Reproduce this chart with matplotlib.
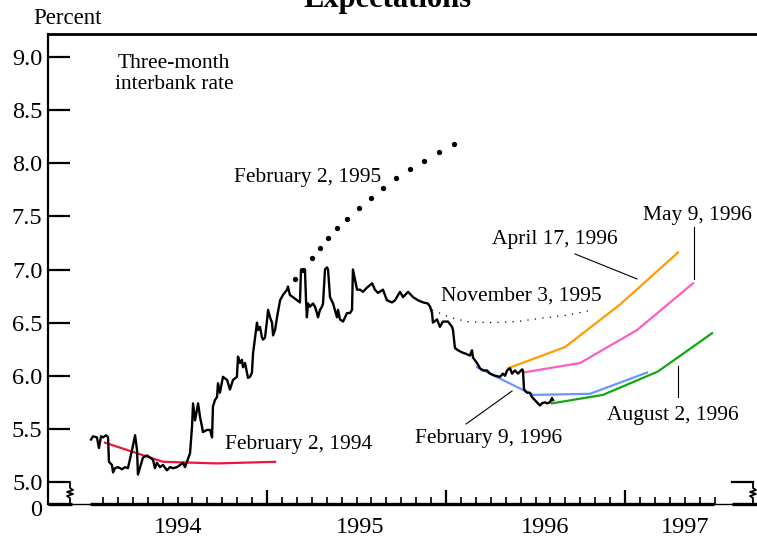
import numpy as np
import matplotlib
matplotlib.use("Agg")
from matplotlib import pyplot as plt

plt.rcParams['font.family'] = ['Liberation Serif', 'DejaVu Serif']

# three-month interbank rate (decimal year, percent)
rate_t = [1994.017, 1994.028, 1994.050, 1994.061, 1994.073, 1994.084, 1994.101, 1994.112,
          1994.117, 1994.134, 1994.140, 1994.151, 1994.168, 1994.190, 1994.207, 1994.223,
          1994.246, 1994.263, 1994.274, 1994.279, 1994.291, 1994.307, 1994.330, 1994.346,
          1994.363, 1994.374, 1994.385, 1994.402, 1994.419, 1994.441, 1994.458, 1994.475,
          1994.497, 1994.514, 1994.531, 1994.542, 1994.553, 1994.570, 1994.581, 1994.587,
          1994.598, 1994.609, 1994.615, 1994.626, 1994.637, 1994.642, 1994.665, 1994.682,
          1994.693, 1994.698, 1994.709, 1994.721, 1994.726, 1994.737, 1994.754, 1994.777,
          1994.793, 1994.810, 1994.832, 1994.838, 1994.849, 1994.860, 1994.866, 1994.877,
          1994.888, 1994.894, 1994.905, 1994.916, 1994.922, 1994.944, 1994.950, 1994.961,
          1994.972, 1994.978, 1994.989, 1995.000, 1995.006, 1995.017, 1995.028, 1995.034,
          1995.045, 1995.056, 1995.073, 1995.089, 1995.112, 1995.117, 1995.128, 1995.145,
          1995.168, 1995.184, 1995.190, 1995.212, 1995.218, 1995.223, 1995.229, 1995.240,
          1995.257, 1995.268, 1995.279, 1995.285, 1995.296, 1995.307, 1995.313, 1995.324,
          1995.335, 1995.341, 1995.352, 1995.369, 1995.391, 1995.397, 1995.408, 1995.425,
          1995.447, 1995.464, 1995.475, 1995.480, 1995.503, 1995.520, 1995.536, 1995.559,
          1995.587, 1995.603, 1995.620, 1995.648, 1995.670, 1995.698, 1995.715, 1995.743,
          1995.760, 1995.788, 1995.816, 1995.844, 1995.872, 1995.899, 1995.911, 1995.922,
          1995.927, 1995.950, 1995.966, 1995.983, 1996.011, 1996.034, 1996.039, 1996.050,
          1996.067, 1996.089, 1996.106, 1996.134, 1996.145, 1996.151, 1996.173, 1996.190,
          1996.207, 1996.229, 1996.246, 1996.274, 1996.302, 1996.318, 1996.330, 1996.341,
          1996.358, 1996.369, 1996.385, 1996.402, 1996.425, 1996.430, 1996.436, 1996.453,
          1996.469, 1996.480, 1996.497, 1996.508, 1996.525, 1996.536, 1996.553, 1996.564,
          1996.581, 1996.592, 1996.598]
rate_v = [5.40, 5.43, 5.42, 5.32, 5.43, 5.42, 5.44, 5.42,
          5.19, 5.16, 5.09, 5.13, 5.14, 5.12, 5.14, 5.13,
          5.30, 5.44, 5.30, 5.07, 5.14, 5.23, 5.25, 5.23,
          5.21, 5.13, 5.18, 5.14, 5.16, 5.11, 5.14, 5.13,
          5.14, 5.16, 5.18, 5.14, 5.19, 5.27, 5.52, 5.74,
          5.58, 5.68, 5.74, 5.61, 5.52, 5.47, 5.49, 5.49,
          5.42, 5.71, 5.77, 5.80, 5.93, 5.84, 5.99, 5.96,
          5.87, 5.96, 5.99, 6.18, 6.12, 6.15, 6.08, 6.12,
          6.03, 5.98, 5.99, 6.03, 6.21, 6.50, 6.43, 6.46,
          6.36, 6.34, 6.36, 6.52, 6.62, 6.55, 6.50, 6.38,
          6.43, 6.55, 6.71, 6.76, 6.81, 6.84, 6.76, 6.74,
          6.71, 6.69, 7.00, 7.00, 6.71, 6.55, 6.68, 6.65,
          6.68, 6.65, 6.59, 6.55, 6.62, 6.65, 6.68, 7.00,
          7.02, 7.00, 6.74, 6.68, 6.55, 6.62, 6.53, 6.51,
          6.59, 6.59, 6.62, 7.00, 6.81, 6.81, 6.79, 6.83,
          6.87, 6.81, 6.78, 6.81, 6.71, 6.69, 6.71, 6.79,
          6.74, 6.79, 6.74, 6.71, 6.69, 6.68, 6.65, 6.59,
          6.50, 6.53, 6.46, 6.51, 6.51, 6.46, 6.43, 6.26,
          6.24, 6.22, 6.21, 6.19, 6.24, 6.17, 6.12, 6.07,
          6.05, 6.05, 6.02, 6.00, 5.99, 6.02, 6.00, 6.05,
          6.07, 6.02, 6.05, 6.02, 6.06, 6.05, 5.87, 5.84,
          5.84, 5.80, 5.77, 5.75, 5.72, 5.74, 5.75, 5.74,
          5.75, 5.79, 5.77]

# implied forward rates on each date
feb94_t = [1994.095, 1994.419, 1994.721, 1995.045]
feb94_v = [5.37, 5.19, 5.175, 5.19]

feb95_t = [1995.156, 1995.201, 1995.251, 1995.296, 1995.341, 1995.391, 1995.447, 1995.514,
           1995.581, 1995.648, 1995.721, 1995.799, 1995.877, 1995.961, 1996.045]
feb95_v = [6.91, 7.00, 7.11, 7.20, 7.30, 7.39, 7.48, 7.58,
           7.67, 7.77, 7.86, 7.95, 8.02, 8.11, 8.18]

nov95_t = [1995.922, 1996.022, 1996.117, 1996.246, 1996.397, 1996.525, 1996.676, 1996.821]
nov95_v = [6.62, 6.55, 6.51, 6.50, 6.51, 6.54, 6.57, 6.62]

feb96_t = [1996.173, 1996.486, 1996.804, 1997.123]
feb96_v = [6.08, 5.82, 5.83, 6.03]

apr96_t = [1996.346, 1996.665, 1996.972, 1997.296]
apr96_v = [6.07, 6.27, 6.67, 7.16]

may96_t = [1996.430, 1996.749, 1997.067, 1997.380]
may96_v = [6.03, 6.12, 6.43, 6.87]

aug96_t = [1996.592, 1996.877, 1997.184, 1997.486]
aug96_v = [5.74, 5.82, 6.04, 6.40]

year_labels = ['1994', '1995', '1996', '1997']
year_label_t = [1994.503, 1995.520, 1996.553, 1997.335]
y_ticks = [5.0, 5.5, 6.0, 6.5, 7.0, 7.5, 8.0, 8.5, 9.0]

# labels: text, (t, v) of label, leader line
labels = [
    ('Three-month\ninterbank rate', 1994.480, 8.84, None),
    ('February 2, 1995', 1995.229, 7.87, None),
    ('November 3, 1995', 1996.419, 6.75, None),
    ('April 17, 1996', 1996.609, 7.28, ([1996.721, 1997.067], [7.146, 6.911])),
    ('May 9, 1996', 1997.402, 7.51, ([1997.385, 1997.385], [7.40, 6.91])),
    ('August 2, 1996', 1997.268, 5.63, ([1997.296, 1997.296], [6.09, 5.80])),
    ('February 9, 1996', 1996.240, 5.41, ([1996.112, 1996.369], [5.546, 5.856])),
    ('February 2, 1994', 1995.179, 5.35, None),
]

W, H = 757, 538
fig = plt.figure(figsize=(W / 100, H / 100), dpi=100)
L, R, T, B = 48, 757, 34, 503.5
ax = fig.add_axes([L / W, (H - B) / H, (R - L) / W, (B - T) / H])

ppy = 179.0          # pixels per year
ppu = 106.25         # pixels per percent
x0 = 1994 + (L - 88) / ppy
x1 = 1994 + (R - 88) / ppy
ybot = 5.0 - (B - 482) / ppu
ytop = 9.0 + (57 - T) / ppu
ax.set_xlim(x0, x1)
ax.set_ylim(ybot, ytop)

ax.plot(rate_t, rate_v, color='black', lw=1.7, zorder=5)
ax.plot(feb94_t, feb94_v, color='#f0143c', lw=1.6)
ax.plot(feb95_t, feb95_v, ls='none', marker='o', ms=2.8, color='black')
ax.plot(nov95_t, nov95_v, color='black', lw=0.9, ls=(0, (1, 5)))
ax.plot(feb96_t, feb96_v, color='#6a96ff', lw=1.6)
ax.plot(apr96_t, apr96_v, color='#ff9c00', lw=1.6)
ax.plot(may96_t, may96_v, color='#ff5ec0', lw=1.6)
ax.plot(aug96_t, aug96_v, color='#10a810', lw=1.6)

for txt, tx, ty, lead in labels:
    ax.text(tx, ty, txt, ha='center', va='center', fontsize=15.5, linespacing=1.15)
    if lead is not None:
        ax.plot(lead[0], lead[1], color='black', lw=0.8)

# spines
for s in ['right', 'bottom']:
    ax.spines[s].set_visible(False)
ax.spines['left'].set_linewidth(1.6)
ax.spines['top'].set_linewidth(2.0)

# y axis
ax.set_yticks(y_ticks)
ax.set_yticklabels(['%.1f' % v for v in y_ticks], fontsize=17.5)
ax.tick_params(axis='y', direction='in', length=16, width=1.6, pad=4)
ax.annotate('0', xy=(0, ybot), xycoords=('axes fraction', 'data'), xytext=(-4, -5),
            textcoords='offset points', ha='right', va='center', fontsize=17.5)

# x axis: monthly ticks, taller at year starts
months = 1994 + np.arange(1, 43) / 12.0
ax.set_xticks([1995, 1996, 1997])
ax.set_xticks(months, minor=True)
ax.set_xticklabels([])
ax.tick_params(axis='x', which='major', direction='in', length=10, width=1.6)
ax.tick_params(axis='x', which='minor', direction='in', length=4.8, width=1.2)
for lab, t in zip(year_labels, year_label_t):
    ax.text(t, ybot - 24 / ppu, lab, ha='center', va='center', fontsize=17.5, clip_on=False)

# custom bottom line with breaks
dx = 1 / ppy
ax.plot([x0, x1], [ybot, ybot], color='black', lw=1.0, clip_on=False)
for a, b in [(x0, x0 + 24 * dx), (1994 + 2 * dx, 1997.497), (1994 + (732 - 88) * dx, x1)]:
    ax.plot([a, b], [ybot, ybot], color='black', lw=2.4, clip_on=False, solid_capstyle='butt')

dy = 1 / ppu
zig = np.array([0, 0, 3, -3, 3, -3, 0, 0])
zy = np.array([0, 6, 8, 10, 12, 14, 16, 21])
for xb in [1994 + (70 - 88) * dx, 1994 + (753 - 88) * dx]:
    ax.plot(xb + zig * dx, 5.0 - zy * dy, color='black', lw=1.3, clip_on=False)
# right bracket top
ax.plot([1994 + (732 - 88) * dx, 1994 + (753 - 88) * dx], [5.0, 5.0], color='black', lw=1.6)

fig.text(68 / W, 1 - 18 / H, 'Percent', ha='center', va='center', fontsize=16.5)
fig.text(387 / W, 1 - 7 / H, 'Expectations', ha='center', va='baseline',
         fontsize=22, fontweight='bold')

fig.savefig('out.png', dpi=100)
